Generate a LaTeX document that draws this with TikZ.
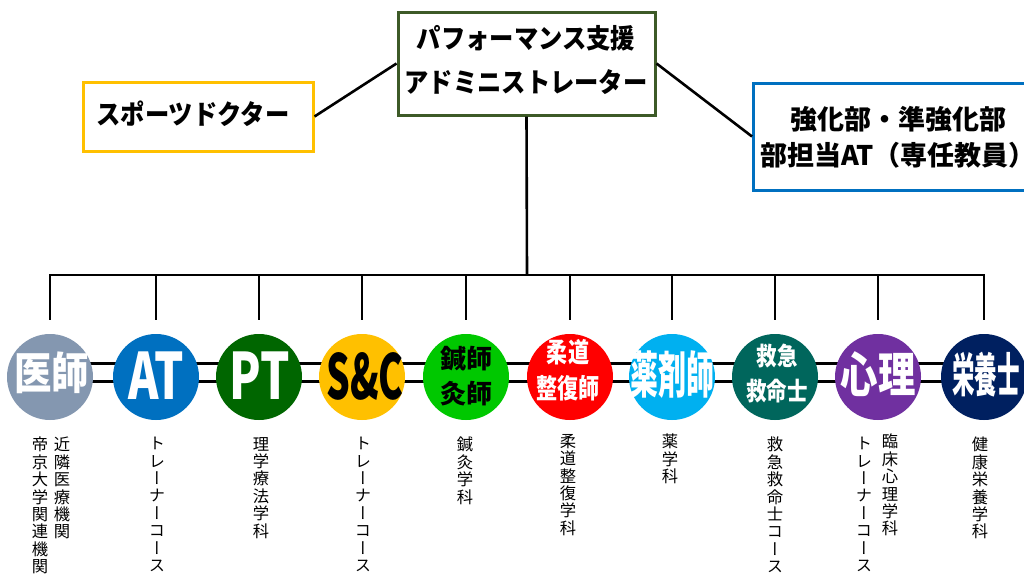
\documentclass[tikz,border=0pt]{standalone}
\usepackage{fontspec}
\usetikzlibrary{backgrounds}
\newfontfamily\jp{Noto Sans CJK JP}
\newfontfamily\jpn[FakeStretch=0.9]{Noto Sans CJK JP}
\newfontfamily\jpv[RawFeature=+vert]{Noto Sans CJK JP}
\definecolor{tgreen}{HTML}{3D5A27}
\definecolor{tyellow}{HTML}{FFC000}
\definecolor{tblue}{HTML}{0070C0}
\definecolor{cA}{HTML}{8497B0}
\definecolor{cB}{HTML}{0070C0}
\definecolor{cC}{HTML}{006600}
\definecolor{cD}{HTML}{FFC000}
\definecolor{cE}{HTML}{00C800}
\definecolor{cF}{HTML}{FF0000}
\definecolor{cG}{HTML}{00B0F0}
\definecolor{cH}{HTML}{00665C}
\definecolor{cI}{HTML}{7030A0}
\definecolor{cJ}{HTML}{002060}
\newcommand\sx[2]{\scalebox{#1}[1]{#2}}
\begin{document}
\begin{tikzpicture}[x=1pt,y=-1pt,
  line/.style={line width=2.6pt, black},
  frame/.style={draw, line width=3pt, fill=white, inner sep=0pt},
  circ/.style={circle, minimum size=86pt, inner sep=0pt},
  ctext/.style={inner sep=0pt, align=center, text=white},
  vtext/.style={anchor=north, inner sep=0pt, align=center, text=black,
    font={\jpv\fontsize{16.3}{17.4}\selectfont}},
]
\useasboundingbox (0,0) rectangle (1024,579);
\clip (0,0) rectangle (1024,579);

% top frames
\node[frame, draw=tgreen, minimum width=257pt, minimum height=103pt] (pa) at (526.5,63.5) {};
\node[inner sep=0pt, align=center, font={\jpn\bfseries\fontsize{27}{44.5}\selectfont}] (pat) at (526,59.75) {パフォーマンス支援\\アドミニストレーター};
\node[frame, draw=tyellow, minimum width=230pt, minimum height=69pt] (sd) at (198,116.5) {};
\node[inner sep=0pt, font={\jpn\bfseries\fontsize{27}{27}\selectfont}] (sdt) at (193,113.5) {スポーツドクター};
\node[frame, draw=tblue, minimum width=305pt, minimum height=107pt, anchor=west] (kb) at (752,136.5) {};
\node[inner sep=0pt, align=center, font={\jp\bfseries\fontsize{27}{36}\selectfont}] (kbt) at (898,137.5) {強化部・準強化部\\部担当AT（専任教員）};

% circles
\node[circ, fill=cA] (c1) at (50,377) {};
\node[circ, fill=cB] (c2) at (156,377) {};
\node[circ, fill=cC] (c3) at (259,377) {};
\node[circ, fill=cD] (c4) at (362,377) {};
\node[circ, fill=cE] (c5) at (466,377) {};
\node[circ, fill=cF] (c6) at (570,377) {};
\node[circ, fill=cG] (c7) at (672,377) {};
\node[circ, fill=cH] (c8) at (775,377) {};
\node[circ, fill=cI] (c9) at (878,377) {};
\node[circ, fill=cJ] (c10) at (984,377) {};

% circle labels
\node[ctext, font={\jp\bfseries\fontsize{44}{44}\selectfont}] (t1) at (52,373) {\sx{0.85}{医師}};
\node[ctext, font={\jp\bfseries\fontsize{64}{64}\selectfont}] (t2) at (156,376) {\sx{0.72}{AT}};
\node[ctext, font={\jp\bfseries\fontsize{64}{64}\selectfont}] (t3) at (260,376) {\sx{0.72}{PT}};
\node[ctext, text=black, font={\jp\bfseries\fontsize{62}{62}\selectfont}] (t4) at (365,376) {\sx{0.6}{S\&C}};
\node[ctext, text=black, font={\jp\bfseries\fontsize{26}{35}\selectfont}] (t5) at (466,376) {鍼師\\灸師};
\node[ctext, font={\jp\bfseries\fontsize{27}{36}\selectfont}] (t6) at (568,370) {\sx{0.78}{柔道}\\\sx{0.78}{整復師}};
\node[ctext, font={\jp\bfseries\fontsize{50}{50}\selectfont}] (t7) at (672,375) {\sx{0.56}{薬剤師}};
\node[ctext, font={\jp\bfseries\fontsize{25}{35}\selectfont}] (t8) at (777,373.5) {\sx{0.82}{救急}\\\sx{0.82}{救命士}};
\node[ctext, font={\jp\bfseries\fontsize{48}{48}\selectfont}] (t9) at (878,374.5) {\sx{0.78}{心理}};
\node[ctext, font={\jp\bfseries\fontsize{47}{47}\selectfont}] (t10) at (986,375) {\sx{0.48}{栄養士}};

% vertical captions
\node[vtext] (v1a) at (62,437) {近\\隣\\医\\療\\機\\関};
\node[vtext] (v1b) at (40,437) {帝\\京\\大\\学\\関\\連\\機\\関};
\node[vtext] (v2) at (157,437) {ト\\レ\\ー\\ナ\\ー\\コ\\ー\\ス};
\node[vtext] (v3) at (261,437) {理\\学\\療\\法\\学\\科};
\node[vtext] (v4) at (363,437) {ト\\レ\\ー\\ナ\\ー\\コ\\ー\\ス};
\node[vtext] (v5) at (465,437) {鍼\\灸\\学\\科};
\node[vtext] (v6) at (568,434) {柔\\道\\整\\復\\学\\科};
\node[vtext] (v7) at (670,434) {薬\\学\\科};
\node[vtext] (v8) at (775,437) {救\\急\\救\\命\\士\\コ\\ー\\ス};
\node[vtext] (v9a) at (890,434) {臨\\床\\心\\理\\学\\科};
\node[vtext] (v9b) at (864,437) {ト\\レ\\ー\\ナ\\ー\\コ\\ー\\ス};
\node[vtext] (v10) at (980,437) {健\\康\\栄\\養\\学\\科};

% connectors
\coordinate (bar) at (527,275);
\draw[line] (pa.west) -- (sd.east);
\draw[line] (pa.east) -- (kb.west);
\draw[line] (pa.south) -- (bar);
\draw[line] ([yshift=14pt]c1.north) -- (c1.north |- bar) -- (c10.north |- bar) -- ([yshift=14pt]c10.north);
\foreach \i in {2,...,9} {
  \draw[line] (c\i.north |- bar) -- ([yshift=14pt]c\i.north);
}
\begin{scope}[on background layer]
  \draw[line] ([yshift=13.5pt]c1.center) -- ([yshift=13.5pt]c10.center);
  \draw[line] ([yshift=-4.5pt]c1.center) -- ([yshift=-4.5pt]c10.center);
\end{scope}
\end{tikzpicture}
\end{document}
